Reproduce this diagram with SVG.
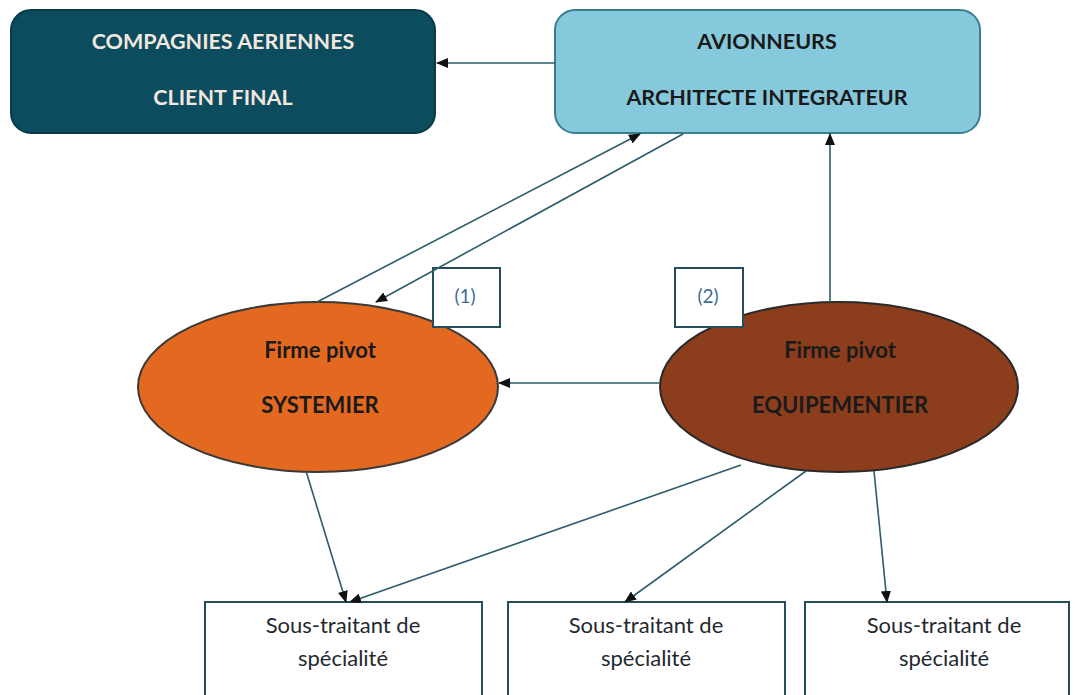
<svg xmlns="http://www.w3.org/2000/svg" width="1075" height="695" viewBox="0 0 1075 695">
<defs>
<marker id="ah" markerWidth="12" markerHeight="10" refX="11" refY="5" orient="auto" markerUnits="userSpaceOnUse">
<path d="M0,0 L12,5 L0,10 z" fill="#111"/>
</marker>
<style>
.t{font-family:Lato,"Open Sans","Liberation Sans",sans-serif;font-weight:bold;text-anchor:middle;}
.lt{fill:#f3e7df;font-size:21.5px;}
.dk{fill:#1a1a1a;font-size:21.5px;}
.el{fill:#1a1a1a;font-size:22px;}
.sub{fill:#1f2a30;font-size:22px;font-weight:normal;}
.num{font-family:Lato,"Liberation Sans",sans-serif;fill:#3e6c96;font-size:19px;text-anchor:middle;}
.con{stroke:#2d5c6a;stroke-width:1.6;fill:none;marker-end:url(#ah);}
.box{fill:#ffffff;stroke:#244e5a;stroke-width:2;}
</style>
</defs>
<rect width="1075" height="695" fill="#ffffff"/>
<g id="compagnies">
<rect x="11" y="10" width="424" height="123" rx="20" fill="#0b4c5e" stroke="#083a48" stroke-width="2"/>
<text class="t lt" x="223" y="49">COMPAGNIES AERIENNES</text>
<text class="t lt" x="223" y="105">CLIENT FINAL</text>
</g>
<g id="avionneurs">
<rect x="555" y="10" width="425" height="123" rx="20" fill="#87c9dc" stroke="#3a7d8e" stroke-width="2"/>
<text class="t dk" x="767" y="49">AVIONNEURS</text>
<text class="t dk" x="767" y="105">ARCHITECTE INTEGRATEUR</text>
</g>
<g id="systemier">
<ellipse cx="318" cy="387" rx="180" ry="85" fill="#e2691f" stroke="#3a3a3a" stroke-width="2"/>
<text class="t el" x="320" y="358">Firme pivot</text>
<text class="t el" x="320" y="413">SYSTEMIER</text>
</g>
<g id="equipementier">
<ellipse cx="839" cy="387" rx="179" ry="85" fill="#8b3d1c" stroke="#2a2a2a" stroke-width="2"/>
<text class="t el" x="840" y="358">Firme pivot</text>
<text class="t el" x="840" y="413">EQUIPEMENTIER</text>
</g>
<g id="label1">
<rect class="box" x="433" y="268" width="67" height="59"/>
<text class="num" x="465" y="303">(1)</text>
</g>
<g id="label2">
<rect class="box" x="675" y="268" width="68" height="59"/>
<text class="num" x="708" y="303">(2)</text>
</g>
<g id="sous1">
<rect class="box" x="205" y="602" width="277" height="100"/>
<text class="t sub" x="343" y="633">Sous-traitant de</text>
<text class="t sub" x="343" y="666">spécialité</text>
</g>
<g id="sous2">
<rect class="box" x="508" y="602" width="277" height="100"/>
<text class="t sub" x="646" y="633">Sous-traitant de</text>
<text class="t sub" x="646" y="666">spécialité</text>
</g>
<g id="sous3">
<rect class="box" x="805" y="602" width="264" height="100"/>
<text class="t sub" x="944" y="633">Sous-traitant de</text>
<text class="t sub" x="944" y="666">spécialité</text>
</g>
<g id="connectors">
<line class="con" x1="555" y1="63" x2="437" y2="63"/>
<line class="con" x1="317" y1="302" x2="640" y2="134"/>
<line class="con" x1="683" y1="134" x2="376" y2="302"/>
<line class="con" x1="830" y1="302" x2="830" y2="134"/>
<line class="con" x1="660" y1="383" x2="499" y2="383"/>
<line class="con" x1="306" y1="471" x2="346" y2="602"/>
<line class="con" x1="741" y1="465" x2="350" y2="602"/>
<line class="con" x1="806" y1="471" x2="625" y2="602"/>
<line class="con" x1="874" y1="471" x2="887" y2="602"/>
</g>
</svg>
